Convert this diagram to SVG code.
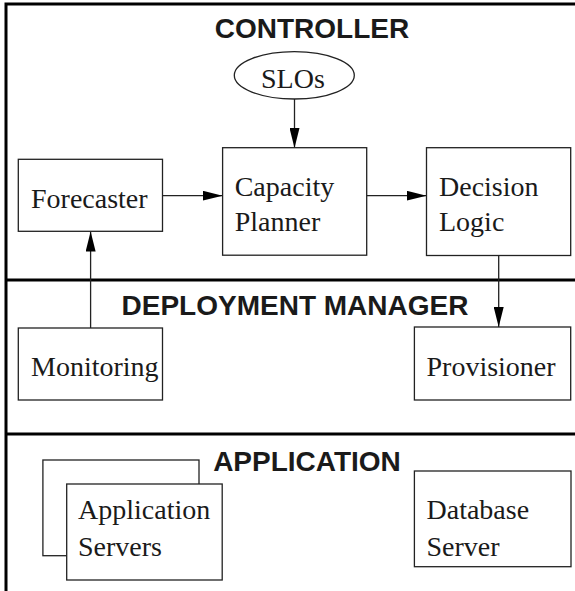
<svg xmlns="http://www.w3.org/2000/svg" width="575" height="591" viewBox="0 0 575 591">
<style>
.frame{stroke:#000;stroke-width:3;fill:none}
.box{fill:#fff;stroke:#222;stroke-width:1.3}
.lbl{font-family:"Liberation Serif","Times New Roman",serif;font-size:28px;fill:#1a1a1a}
.hdr{font-family:"Liberation Sans",Arial,sans-serif;font-size:28px;font-weight:bold;fill:#1a1a1a}
.edge{stroke:#222;stroke-width:1.3;fill:none;marker-end:url(#arr)}
</style>
<defs>
<marker id="arr" markerUnits="userSpaceOnUse" markerWidth="20" markerHeight="10" refX="20" refY="5" orient="auto" viewBox="0 0 20 10">
<path d="M0,0 L20,5 L0,10 Z" fill="#000"/>
</marker>
</defs>
<rect width="575" height="591" fill="#fff"/>
<g id="frame">
<path class="frame" d="M6,591 V4 H575"/>
<line class="frame" x1="6" y1="280" x2="575" y2="280"/>
<line class="frame" x1="6" y1="434" x2="575" y2="434"/>
</g>
<g id="headers">
<text class="hdr" x="312" y="38" text-anchor="middle">CONTROLLER</text>
<text class="hdr" x="295" y="315" text-anchor="middle">DEPLOYMENT MANAGER</text>
<text class="hdr" x="307" y="471" text-anchor="middle">APPLICATION</text>
</g>
<g id="connectors">
<line class="edge" x1="294.5" y1="99" x2="294.5" y2="148"/>
<line class="edge" x1="162.5" y1="195.7" x2="222.6" y2="195.7"/>
<line class="edge" x1="366.7" y1="195.7" x2="426.5" y2="195.7"/>
<line class="edge" x1="90.6" y1="328" x2="90.6" y2="231.5"/>
<line class="edge" x1="498.7" y1="255.5" x2="498.7" y2="327"/>
</g>
<g id="slos">
<ellipse class="box" cx="294.3" cy="75.3" rx="60" ry="23.7"/>
<text class="lbl" x="261" y="88">SLOs</text>
</g>
<g id="forecaster">
<rect class="box" x="18.3" y="159.3" width="144.2" height="72"/>
<text class="lbl" x="31" y="207.5">Forecaster</text>
</g>
<g id="capacity-planner">
<rect class="box" x="222.6" y="147.7" width="144.1" height="107.5"/>
<text class="lbl" x="234.7" y="195.5">Capacity</text>
<text class="lbl" x="234.7" y="231">Planner</text>
</g>
<g id="decision-logic">
<rect class="box" x="426.5" y="147.7" width="144.2" height="107.8"/>
<text class="lbl" x="439" y="195.5">Decision</text>
<text class="lbl" x="439" y="231">Logic</text>
</g>
<g id="monitoring">
<rect class="box" x="18.3" y="328" width="144.2" height="72"/>
<text class="lbl" x="31" y="375.7">Monitoring</text>
</g>
<g id="provisioner">
<rect class="box" x="414.4" y="327" width="156.3" height="73"/>
<text class="lbl" x="426.5" y="375.7">Provisioner</text>
</g>
<g id="application-servers">
<rect class="box" x="42.9" y="460" width="156.1" height="95.7"/>
<rect class="box" x="66.7" y="484" width="155.5" height="96"/>
<text class="lbl" x="78" y="519">Application</text>
<text class="lbl" x="78" y="556">Servers</text>
</g>
<g id="database-server">
<rect class="box" x="414.4" y="471" width="156.6" height="95.7"/>
<text class="lbl" x="426.5" y="519">Database</text>
<text class="lbl" x="426.5" y="556">Server</text>
</g>
</svg>
